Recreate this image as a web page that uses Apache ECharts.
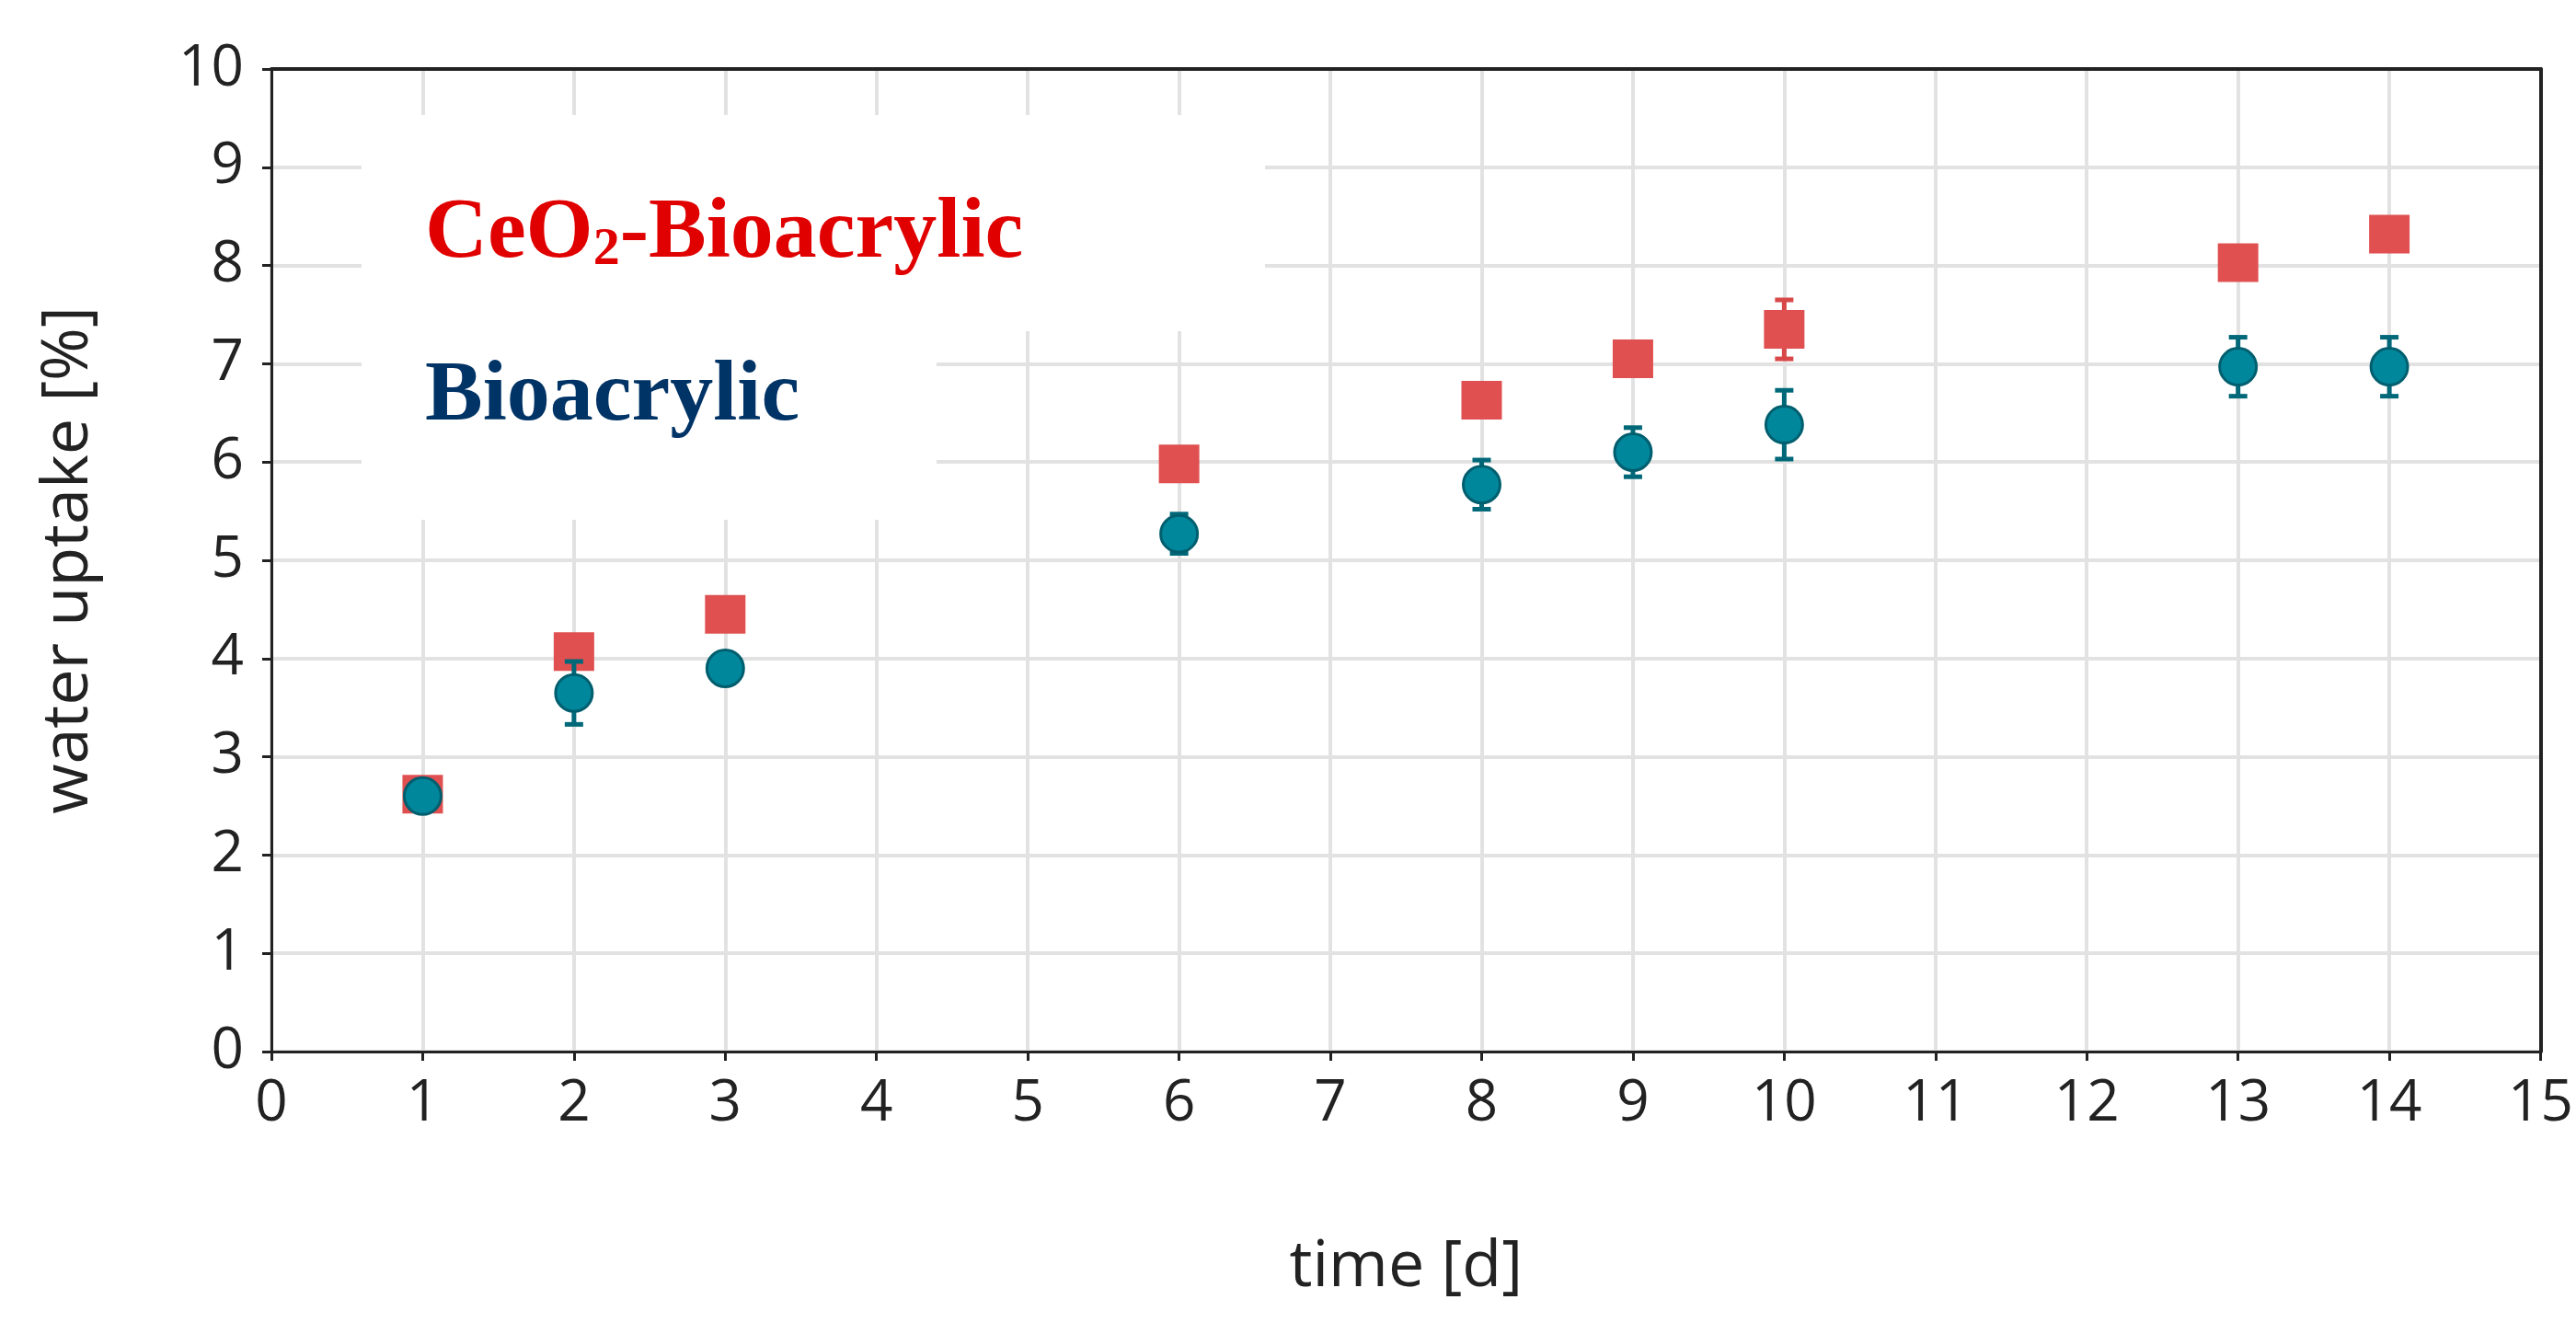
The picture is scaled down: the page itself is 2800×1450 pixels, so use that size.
<!DOCTYPE html>
<html><head><meta charset="utf-8">
<script src="https://cdn.jsdelivr.net/npm/echarts@6/dist/echarts.min.js"></script>
<style>html,body{margin:0;padding:0;background:#fff}#c{width:2800px;height:1450px}</style>
</head><body><div id="c"></div>
<script>
const days = [1, 2, 3, 6, 8, 9, 10, 13, 14];
const ceoValues = [2.62, 4.07, 4.45, 5.98, 6.63, 7.05, 7.35, 8.03, 8.32];
const ceoErrors = [0.05, 0.1, 0.08, 0.06, 0.06, 0.1, 0.3, 0.06, 0.06];
const bioValues = [2.6, 3.65, 3.9, 5.27, 5.77, 6.1, 6.38, 6.97, 6.97];
const bioErrors = [0.05, 0.32, 0.05, 0.2, 0.25, 0.25, 0.35, 0.3, 0.3];
const xTicks = [0,1,2,3,4,5,6,7,8,9,10,11,12,13,14,15];
const yTicks = [0,1,2,3,4,5,6,7,8,9,10];

const chart = echarts.init(document.getElementById('c'));
function errSeries(vals, errs, color, z){
  return {
    type:'custom', z:z,
    data: days.map((d,i)=>[d, vals[i]-errs[i], vals[i]+errs[i]]),
    renderItem:(params, api)=>{
      const lo = api.coord([api.value(0), api.value(1)]);
      const hi = api.coord([api.value(0), api.value(2)]);
      const w = 10;
      const st = {stroke:color, lineWidth:5};
      return {type:'group', children:[
        {type:'line', shape:{x1:lo[0],y1:lo[1],x2:hi[0],y2:hi[1]}, style:st},
        {type:'line', shape:{x1:lo[0]-w,y1:lo[1],x2:lo[0]+w,y2:lo[1]}, style:st},
        {type:'line', shape:{x1:hi[0]-w,y1:hi[1],x2:hi[0]+w,y2:hi[1]}, style:st}
      ]};
    }
  };
}
const lbl = {fontFamily:'Open Sans', fontSize:62, color:'#222'};
chart.setOption({
  animation:false,
  grid:{left:295, right:14, top:75, bottom:307},
  xAxis:[{type:'value', min:0, max:15, interval:1,
    name:'time [d]', nameLocation:'middle', nameGap:200,
    nameTextStyle:{fontFamily:'Open Sans', fontSize:70, color:'#222'},
    axisLabel:Object.assign({margin:26, formatter:v=>xTicks.includes(v)?String(v):''}, lbl),
    axisLine:{show:true, onZero:false, lineStyle:{color:'#222', width:3}},
    axisTick:{show:true, length:10, lineStyle:{color:'#222', width:3}},
    splitLine:{show:true, lineStyle:{color:'#e2e2e2', width:4}}},
   {type:'value', position:'top', min:0, max:15, axisLabel:{show:false}, axisTick:{show:false}, splitLine:{show:false},
    axisLine:{show:true, onZero:false, lineStyle:{color:'#222', width:4}}}],
  yAxis:[{type:'value', min:0, max:10, interval:1,
    name:'water uptake [%]', nameLocation:'middle', nameGap:185,
    nameTextStyle:{fontFamily:'Open Sans', fontSize:70, color:'#222'},
    axisLabel:Object.assign({margin:30, formatter:v=>yTicks.includes(v)?String(v):''}, lbl),
    axisLine:{show:true, onZero:false, lineStyle:{color:'#222', width:3}},
    axisTick:{show:true, length:10, lineStyle:{color:'#222', width:3}},
    splitLine:{show:true, lineStyle:{color:'#e2e2e2', width:4}}},
   {type:'value', position:'right', min:0, max:10, axisLabel:{show:false}, axisTick:{show:false}, splitLine:{show:false},
    axisLine:{show:true, onZero:false, lineStyle:{color:'#222', width:4}}}],
  graphic:[
    {type:'rect', z:5, shape:{x:393, y:125, width:982, height:235}, style:{fill:'#fff'}},
    {type:'rect', z:5, shape:{x:393, y:355, width:625, height:210}, style:{fill:'#fff'}},
    {type:'text', z:6, left:462, top:208, style:{
      text:'{a|CeO}{s|2}{a|-Bioacrylic}',
      rich:{a:{fontFamily:'Liberation Serif', fontWeight:'bold', fontSize:94, fill:'#e00000'},
            s:{fontFamily:'Liberation Serif', fontWeight:'bold', fontSize:58, fill:'#e00000', padding:[34,0,0,0]}}}},
    {type:'text', z:6, left:462, top:385, style:{text:'Bioacrylic',
      fontFamily:'Liberation Serif', fontWeight:'bold', fontSize:94, fill:'#003366'}}
  ],
  series:[
    errSeries(ceoValues, ceoErrors, '#d84848', 10),
    {type:'scatter', z:11, symbol:'rect', symbolSize:[44,42], data:days.map((d,i)=>[d,ceoValues[i]]),
      itemStyle:{color:'#e05050', opacity:1}},
    errSeries(bioValues, bioErrors, '#006878', 12),
    {type:'scatter', z:13, symbol:'circle', symbolSize:40, data:days.map((d,i)=>[d,bioValues[i]]),
      itemStyle:{color:'#00879b', borderColor:'#005e6e', borderWidth:3, opacity:1}}
  ]
});
</script></body></html>
